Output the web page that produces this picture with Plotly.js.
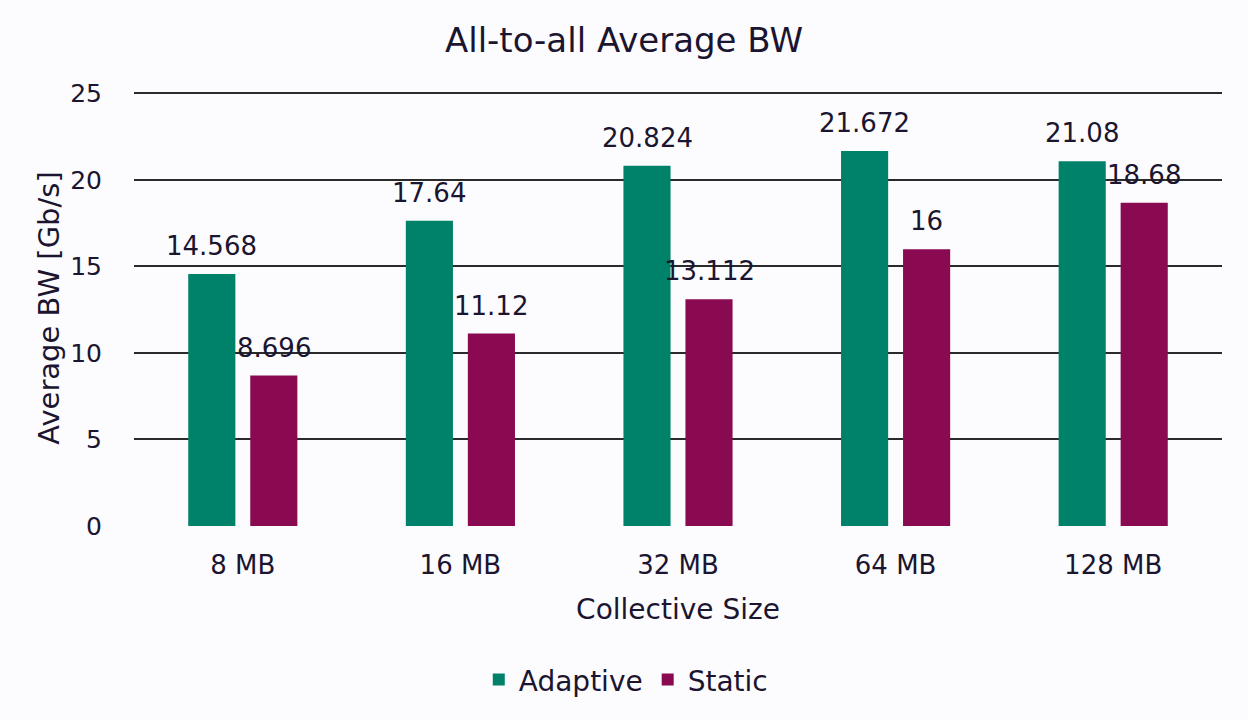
<!DOCTYPE html>
<html>
<head>
<meta charset="utf-8">
<script src="https://cdn.plot.ly/plotly-3.0.1.min.js"></script>
<style>
  html, body { margin: 0; padding: 0; background: #fcfcfe; }
  #chart { width: 1248px; height: 720px; }
</style>
</head>
<body>
<div id="chart"></div>
<script>
const sizes = ["8 MB", "16 MB", "32 MB", "64 MB", "128 MB"];
const adaptive = [14.568, 17.64, 20.824, 21.672, 21.08];
const statik = [8.696, 11.12, 13.112, 16, 18.68];

const textColor = "#1b1530";
const fontFamily = "DejaVu Sans, Verdana, sans-serif";
const green = "#00826a";
const purple = "#8a0a52";

// value labels sit a bit above each bar, shifted onto their own bar in the group
function labelsFor(values, shift) {
  return values.map((v, i) => ({
    x: sizes[i],
    y: v,
    xref: "x",
    yref: "y",
    text: String(v),
    showarrow: false,
    xshift: shift,
    yshift: 28,
    yanchor: "middle",
    font: { size: 26, color: textColor, family: fontFamily },
  }));
}

const traces = [
  {
    type: "bar",
    name: "Adaptive",
    x: sizes,
    y: adaptive,
    marker: { color: green },
  },
  {
    type: "bar",
    name: "Static",
    x: sizes,
    y: statik,
    marker: { color: purple },
  },
];

const layout = {
  width: 1248,
  height: 720,
  paper_bgcolor: "#fcfcfe",
  plot_bgcolor: "#fcfcfe",
  font: { family: fontFamily, color: textColor, size: 25 },
  margin: { l: 134, r: 26, t: 90, b: 194 },
  barmode: "group",
  bargap: 0.43,
  bargroupgap: 0.24,
  title: {
    text: "All-to-all Average BW",
    x: 0.5,
    xref: "container",
    y: 0.945,
    yanchor: "middle",
    font: { size: 34, color: textColor, family: fontFamily },
  },
  xaxis: {
    type: "category",
    showgrid: false,
    zeroline: false,
    showline: false,
    ticks: "",
    ticklabelstandoff: 21,
    tickfont: { size: 26, color: textColor },
    title: {
      text: "Collective Size",
      standoff: 20,
      font: { size: 28, color: textColor },
    },
  },
  yaxis: {
    range: [0, 25.2],
    tickvals: [0, 5, 10, 15, 20, 25],
    showgrid: true,
    gridcolor: "#2a2a2a",
    gridwidth: 2,
    zeroline: false,
    showline: false,
    ticks: "",
    ticklabelstandoff: 31,
    tickfont: { size: 25, color: textColor },
    title: {
      text: "Average BW [Gb/s]",
      standoff: 2,
      font: { size: 29, color: textColor },
    },
  },
  showlegend: true,
  legend: {
    orientation: "h",
    x: 0.452,
    xanchor: "center",
    y: -0.353,
    yanchor: "middle",
    font: { size: 28, color: textColor },
    bgcolor: "rgba(0,0,0,0)",
  },
  annotations: [...labelsFor(adaptive, -31), ...labelsFor(statik, 31)],
};

Plotly.newPlot("chart", traces, layout, { staticPlot: true });
</script>
</body>
</html>
